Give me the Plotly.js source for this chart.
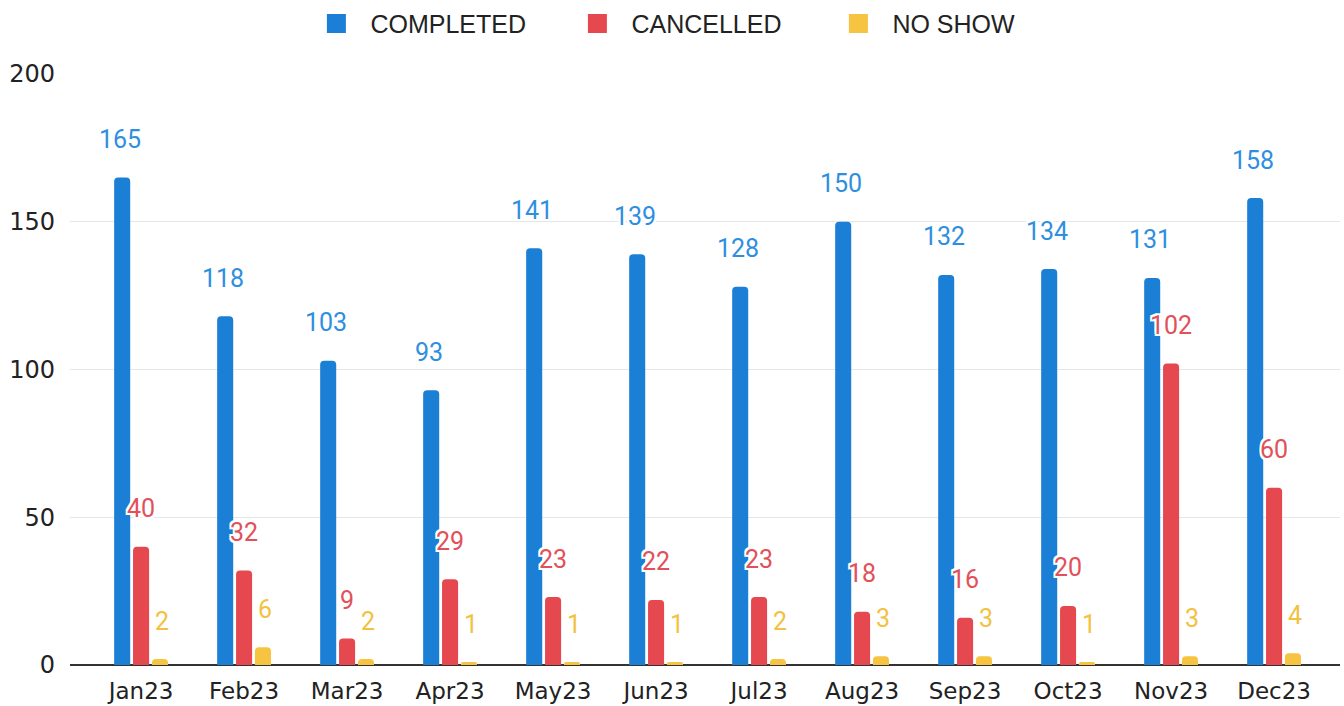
<!DOCTYPE html>
<html>
<head>
<meta charset="utf-8">
<script src="https://cdn.plot.ly/plotly-3.0.1.min.js"></script>
<style>html,body{margin:0;padding:0;background:#fff;}#chart{width:1344px;height:706px;}</style>
</head>
<body>
<div id="chart"></div>
<script>
const months = ["Jan23","Feb23","Mar23","Apr23","May23","Jun23","Jul23","Aug23","Sep23","Oct23","Nov23","Dec23"];
const completed = [165,118,103,93,141,139,128,150,132,134,131,158];
const cancelled = [40,32,9,29,23,22,23,18,16,20,102,60];
const noShow = [2,6,2,1,1,1,2,3,3,1,3,4];
const seriesNames = ["COMPLETED","CANCELLED","NO SHOW"];

const barColors = ["#1b7fd6","#e5484f","#f7c441"];
const labelColors = ["#2e8fdf","#e2505a","#f2c23f"];
const seriesVals = [completed, cancelled, noShow];
const xShifts = [-21, 0, 21];

const traces = seriesVals.map((vals, s) => ({
  type: "bar",
  name: seriesNames[s],
  legendgroup: seriesNames[s],
  showlegend: false,
  x: months,
  y: vals,
  marker: {color: barColors[s]},
  hoverinfo: "x+y+name"
}));
// legend proxies (larger square symbols)
seriesNames.forEach((n, s) => {
  traces.push({
    type: "scatter", mode: "markers", name: n, legendgroup: n,
    x: [null], y: [null],
    marker: {symbol: "square", size: 17, color: barColors[s], line: {color: barColors[s], width: 3}},
    hoverinfo: "skip"
  });
});

const halo = "2px 0 0 #fff, -2px 0 0 #fff, 0 2px 0 #fff, 0 -2px 0 #fff, 2px 2px 0 #fff, -2px -2px 0 #fff, 2px -2px 0 #fff, -2px 2px 0 #fff";
const annotations = [];
seriesVals.forEach((vals, s) => {
  vals.forEach((v, i) => {
    annotations.push({
      x: months[i], y: v, xref: "x", yref: "y",
      text: String(v), showarrow: false,
      xshift: xShifts[s], yshift: 38, yanchor: "middle", xanchor: "center",
      font: {family: "Roboto, 'Noto Sans', sans-serif", size: 25, color: labelColors[s], shadow: halo}
    });
  });
});

const layout = {
  width: 1344, height: 706,
  margin: {l: 70, r: 4, t: 74, b: 41},
  paper_bgcolor: "#fff", plot_bgcolor: "#fff",
  barmode: "group",
  bargap: 0.45,
  bargroupgap: 0.15,
  barcornerradius: 4,
  showlegend: true,
  legend: {
    orientation: "h",
    xref: "container", yref: "container",
    x: 0.225, xanchor: "left", y: 0.999, yanchor: "top",
    font: {family: "'Liberation Sans', Arial, sans-serif", size: 25, color: "#222"},
    itemwidth: 58,
    entrywidth: 188,
    itemsizing: "trace",
    itemclick: false, itemdoubleclick: false
  },
  xaxis: {
    type: "category",
    range: [-0.69, 11.64],
    showgrid: false,
    showline: false,
    zeroline: false,
    ticks: "",
    ticklabelstandoff: 10,
    tickfont: {family: "'DejaVu Sans', sans-serif", size: 23, color: "#222"},
    fixedrange: true
  },
  yaxis: {
    range: [0, 200],
    tickvals: [0, 50, 100, 150, 200],
    showgrid: true,
    gridcolor: "#e6e6e6",
    gridwidth: 1,
    zeroline: true,
    zerolinecolor: "#333",
    zerolinewidth: 2,
    showline: false,
    ticks: "",
    ticklabelstandoff: 14,
    tickfont: {family: "'DejaVu Sans', sans-serif", size: 24, color: "#222"},
    fixedrange: true
  },
  annotations: annotations
};

Plotly.newPlot("chart", traces, layout, {displayModeBar: false, responsive: false});
</script>
</body>
</html>
